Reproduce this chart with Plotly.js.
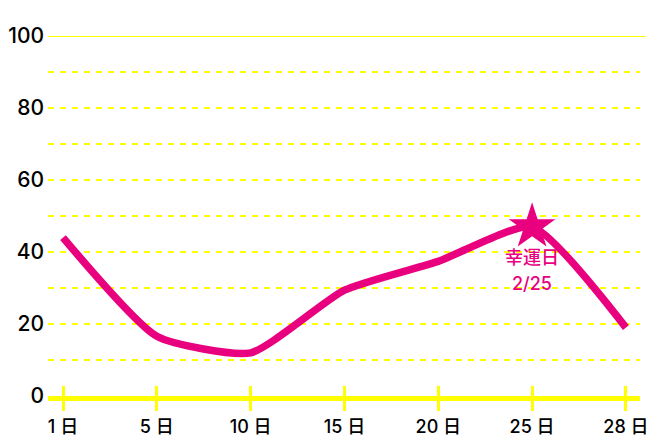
<!DOCTYPE html>
<html><head><meta charset="utf-8">
<script src="https://cdn.plot.ly/plotly-3.0.1.min.js"></script>
<style>html,body{margin:0;padding:0;background:#fff}#c{width:660px;height:440px}</style>
</head><body><div id="c"></div>
<script>
const days = ["1 日","5 日","10 日","15 日","20 日","25 日","28 日"];
const values = [44, 16.6, 12, 29.4, 37.4, 47, 19];
const luckyIndex = 5;
const luckyLabel = ["幸運日", "2/25"];
const yTicks = [0, 20, 40, 60, 80, 100];

const pink = "#E8007F", yellow = "#FFFF00";
const xIdx = days.map((d, i) => i);
const font = "Inter, 'Noto Sans CJK JP', sans-serif";

const traces = [
  {x: xIdx, y: values, mode: "lines", type: "scatter",
   line: {color: pink, width: 7.5, shape: "spline", smoothing: 0.55}, hoverinfo: "skip"},
  {x: [xIdx[luckyIndex]], y: [values[luckyIndex]], mode: "markers", type: "scatter",
   marker: {symbol: "star", size: 35, color: pink, line: {width: 0}}, hoverinfo: "skip"},
  {x: xIdx, y: values.map(() => null), xaxis: "x2", mode: "markers", type: "scatter", hoverinfo: "skip"}
];

const layout = {
  width: 660, height: 440,
  margin: {l: 48, r: 20, t: 36, b: 44},
  paper_bgcolor: "#fff", plot_bgcolor: "#fff",
  showlegend: false,
  font: {family: font, color: "#000"},
  xaxis: {range: [-0.16, 6.15], tickvals: xIdx, ticktext: days,
          showgrid: false, zeroline: false, showline: true, linecolor: yellow, linewidth: 5,
          ticks: "outside", ticklen: 10, tickwidth: 3, tickcolor: yellow,
          tickfont: {size: 18, family: font, color: "#000", weight: 500}, ticklabelstandoff: 0},
  xaxis2: {overlaying: "x", side: "bottom", anchor: "y", range: [-0.16, 6.15], tickvals: xIdx,
           showticklabels: false, ticks: "inside", ticklen: 10, tickwidth: 3, tickcolor: yellow,
           showgrid: false, zeroline: false, showline: false},
  yaxis: {range: [0, 100], tickvals: yTicks, showgrid: true, gridcolor: yellow, gridwidth: 2,
          griddash: "6px,6px", zeroline: false, showline: false, ticks: "",
          tickfont: {size: 21, family: font, color: "#000", weight: 500}, ticklabelstandoff: 3},
  shapes: [],
  annotations: luckyLabel.map((t, i) => ({x: xIdx[luckyIndex], y: values[luckyIndex], text: t,
                 showarrow: false, yanchor: "middle", yshift: -31 - 26 * i,
                 font: {size: 18, color: pink, family: font, weight: 500}}))
};
layout.yaxis.minor = {dtick: 10, showgrid: true, gridcolor: yellow, gridwidth: 2, griddash: "6px,6px"};
layout.shapes.push({type: "line", xref: "paper", x0: 0, x1: 1.01, yref: "y", y0: 100, y1: 100,
                    line: {color: yellow, width: 2}, layer: "below"});
Plotly.newPlot("c", traces, layout, {displayModeBar: false, staticPlot: true});
</script></body></html>
